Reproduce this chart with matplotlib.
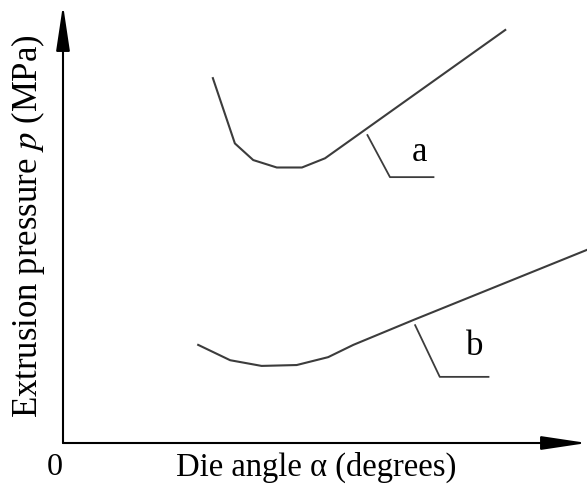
import matplotlib.pyplot as plt

# Curva a: presión de extrusión vs. ángulo de la matriz
ang_a = [28.6, 32.8, 36.3, 40.8, 45.6, 50.0, 84.4]
pres_a = [83.3, 68.4, 64.6, 62.9, 62.9, 65.0, 94.3]

# Curva b
ang_b = [25.8, 31.9, 37.9, 44.6, 50.6, 55.4, 66.9, 100.0]
pres_b = [22.4, 18.9, 17.6, 17.8, 19.6, 22.4, 28.1, 44.1]

# Líneas guía de las etiquetas
guia_a_x = [58.1, 62.4, 70.7]
guia_a_y = [70.3, 60.7, 60.7]
guia_b_x = [67.2, 71.9, 81.2]
guia_b_y = [26.9, 15.1, 15.1]

plt.rcParams['font.family'] = ['Liberation Serif', 'DejaVu Serif']
plt.rcParams['mathtext.fontset'] = 'stix'

fig = plt.figure(figsize=(5.87, 4.94), dpi=100)
ax = fig.add_axes([63 / 587, 51 / 494, 524 / 587, 438 / 494])
ax.set_xlim(0, 100)
ax.set_ylim(0, 100)
ax.axis('off')

color = '#3c3c3c'
ax.plot(ang_a, pres_a, color=color, lw=1.5)
ax.plot(ang_b, pres_b, color=color, lw=1.5)
ax.plot(guia_a_x, guia_a_y, color=color, lw=1.3)
ax.plot(guia_b_x, guia_b_y, color=color, lw=1.3)
ax.text(68.0, 66.3, 'a', fontsize=25, ha='center', va='center')
ax.text(78.6, 22.1, 'b', fontsize=25, ha='center', va='center')

# Ejes con flechas
flecha = dict(arrowstyle='-|>,head_length=2.0,head_width=0.3', color='black',
              lw=1.5, mutation_scale=14, shrinkA=0, shrinkB=0)
ax.annotate('', xy=(0, 1), xytext=(0, 0), xycoords='axes fraction', arrowprops=flecha)
ax.annotate('', xy=(1, 0), xytext=(0, 0), xycoords='axes fraction', arrowprops=flecha)

fig.text(55 / 587, 1 - 467 / 494, '0', fontsize=23, ha='center', va='center')
fig.text(316 / 587, 1 - 467 / 494, 'Die angle α (degrees)', fontsize=23.5,
         ha='center', va='center')
fig.text(28 / 587, 1 - 226 / 494, r'Extrusion pressure $p$ (MPa)', fontsize=25,
         ha='center', va='center', rotation=90)

fig.savefig('out.png', dpi=100)
